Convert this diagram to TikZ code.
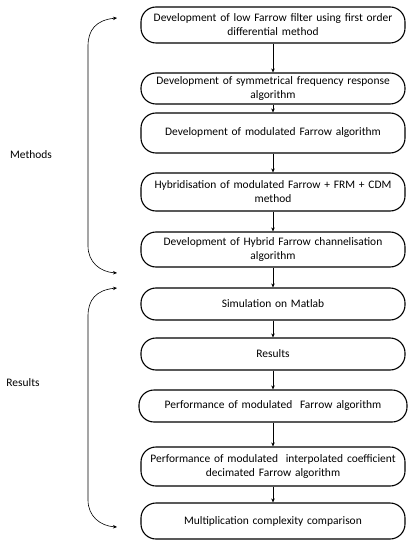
\documentclass[tikz,border=0pt]{standalone}
\usepackage{fontspec}
\setmainfont{Carlito}
\usetikzlibrary{arrows.meta,positioning}

\begin{document}
\begin{tikzpicture}[
    x=1bp, y=-1bp,
    stage/.style={draw, rounded corners=15bp, line width=1.1bp, minimum width=264bp, minimum height=32bp,
                  text width=258bp, align=center, inner sep=3bp, font=\fontsize{11.5}{14}\selectfont},
    arrow/.style={-{Stealth[length=4bp, width=3.5bp]}, line width=0.6bp},
    bracket/.style={{Stealth[length=4bp, width=3.5bp]}-{Stealth[length=4bp, width=3.5bp]}, line width=0.6bp},
    tag/.style={font=\fontsize{11.5}{14}\selectfont}
]
\useasboundingbox (0,0) rectangle (419,550);

% Methods
\node[stage, minimum height=36bp] (lowfarrow) at (273,25) {Development of low Farrow filter using first order\\ differential method};
\node[stage, minimum height=31bp] (symfreq) at (273,88.5) {Development of symmetrical frequency response\\ algorithm};
\node[stage, minimum height=40bp] (modfarrow) at (273,133) {Development of modulated Farrow algorithm};
\node[stage, minimum height=38bp] (hybrid) at (273,192) {Hybridisation of modulated Farrow + FRM + CDM\\ method};
\node[stage, minimum height=35bp] (channel) at (273,249.5) {Development of Hybrid Farrow channelisation\\ algorithm};

% Results
\node[stage] (matlab) at (273,304) {Simulation on Matlab};
\node[stage, minimum width=260bp] (results) at (273,354) {Results};
\node[stage, minimum width=268bp] (perfmod) at (273,406) {Performance of modulated\ \ Farrow algorithm};
\node[stage, minimum height=39bp] (perficd) at (273,466.5) {Performance of modulated\ \ interpolated coefficient\\ decimated Farrow algorithm};
\node[stage, minimum height=36bp] (multcomp) at (273,521) {Multiplication complexity comparison};

\draw[arrow] (lowfarrow) -- (symfreq);
\draw[arrow] (symfreq) -- (modfarrow);
\draw[arrow] (modfarrow) -- (hybrid);
\draw[arrow] (hybrid) -- (channel);
\draw[arrow] (channel) -- (matlab);
\draw[arrow] (matlab) -- (results);
\draw[arrow] (results) -- (perfmod);
\draw[arrow] (perfmod) -- (perficd);
\draw[arrow] (perficd) -- (multcomp);

% Brackets on the left
\coordinate (mtop) at (117,18);
\coordinate (mbot) at (117,273);
\coordinate (rtop) at (117,288);
\coordinate (rbot) at (117,527);
\draw[bracket] (mtop) .. controls (96,20) and (88,30) .. (88,46) -- (88,246)
    .. controls (88,262) and (100,272) .. (mbot);
\draw[bracket] (rtop) .. controls (96,290) and (88,300) .. (88,316) -- (88,500)
    .. controls (88,516) and (100,526) .. (rbot);

\node[tag] (methods) at (31,155) {Methods};
\node[tag] (resultstag) at (23,383) {Results};
\end{tikzpicture}
\end{document}
